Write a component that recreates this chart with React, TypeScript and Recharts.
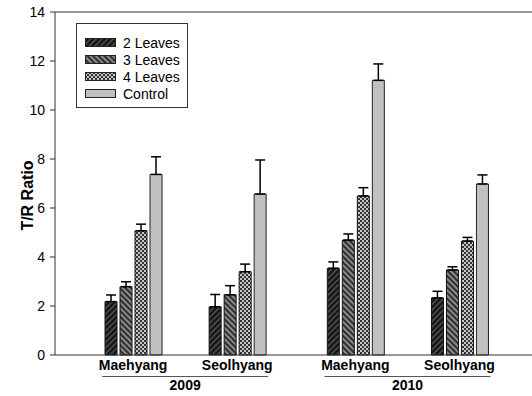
import { BarChart, Bar, XAxis, YAxis, ErrorBar, Legend, ReferenceLine, Label } from 'recharts'

const groups = ['Maehyang', 'Seolhyang', 'Maehyang', 'Seolhyang']
const groupPos = [1, 2, 3.135, 4.135]
const years = ['2009', '2010']
const yearPos = [1.5, 3.635]
const yTicks = [0, 2, 4, 6, 8, 10, 12, 14]

const leaves2 = [2.18, 1.97, 3.54, 2.33]
const leaves2Err = [0.27, 0.5, 0.26, 0.27]
const leaves3 = [2.79, 2.46, 4.69, 3.47]
const leaves3Err = [0.2, 0.37, 0.25, 0.13]
const leaves4 = [5.07, 3.4, 6.49, 4.65]
const leaves4Err = [0.27, 0.31, 0.34, 0.15]
const control = [7.37, 6.57, 11.21, 6.98]
const controlErr = [0.72, 1.39, 0.67, 0.37]

const seriesNames = ['2 Leaves', '3 Leaves', '4 Leaves', 'Control']
const seriesFills = ['url(#p2)', 'url(#p3)', 'url(#p4)', '#c0c0c0']

const data = groups.map((g, i) => ({
  pos: groupPos[i],
  name: g,
  l2: leaves2[i],
  l2e: [0, leaves2Err[i]],
  l3: leaves3[i],
  l3e: [0, leaves3Err[i]],
  l4: leaves4[i],
  l4e: [0, leaves4Err[i]],
  ctrl: control[i],
  ctrle: [0, controlErr[i]]
}))

const font = "'Liberation Sans', Arial, sans-serif"
const axisColor = '#333'

const GroupTick = (props: any) => {
  const { x, y, index } = props
  return (
    <text x={x} y={y + 15} textAnchor="middle" fontFamily={font} fontSize={14} fontWeight="bold" fill="#000">
      {groups[index]}
    </text>
  )
}

const YearTick = (props: any) => {
  const { x, y, index } = props
  return (
    <g>
      <line x1={x - 83} x2={x + 83} y1={y + 1.5} y2={y + 1.5} stroke="#555" strokeWidth={1} />
      <text x={x} y={y + 15} textAnchor="middle" fontFamily={font} fontSize={14} fontWeight="bold" fill="#000">
        {years[index]}
      </text>
    </g>
  )
}

const LegendBox = () => (
  <div
    style={{
      width: 112,
      height: 85,
      border: '1px solid #333',
      background: '#fff',
      boxSizing: 'border-box',
      fontFamily: font,
      fontSize: 14,
      paddingTop: 10,
      textAlign: 'left'
    }}
  >
    {seriesNames.map((n, i) => (
      <div key={n} style={{ display: 'flex', alignItems: 'center', height: 17 }}>
        <svg width={31} height={9} style={{ marginLeft: 8, marginRight: 7 }}>
          <rect x={0.5} y={0.5} width={30} height={8} fill={seriesFills[i]} stroke="#222" strokeWidth={1} />
        </svg>
        <span>{n}</span>
      </div>
    ))}
  </div>
)

export default function App() {
  return (
    <div style={{ position: 'absolute', left: 0, top: 0, width: 532, height: 396, overflow: 'hidden', background: '#fff' }}>
      <BarChart
        width={560}
        height={396}
        data={data}
        margin={{ top: 12, right: 0, left: 0, bottom: 0 }}
        barSize={12}
        barGap={3}
      >
        <defs>
          <pattern id="p2" width={4} height={4} patternUnits="userSpaceOnUse" patternTransform="rotate(45)">
            <rect width={4} height={4} fill="#151515" />
            <rect width={1.3} height={4} fill="#5a5a5a" />
          </pattern>
          <pattern id="p3" width={4} height={4} patternUnits="userSpaceOnUse" patternTransform="rotate(-45)">
            <rect width={4} height={4} fill="#8a8a8a" />
            <rect width={2} height={4} fill="#2e2e2e" />
          </pattern>
          <pattern id="p4" width={4} height={4} patternUnits="userSpaceOnUse">
            <rect width={4} height={4} fill="#c8c8c8" />
            <rect width={2} height={2} fill="#333" />
            <rect x={2} y={2} width={2} height={2} fill="#333" />
          </pattern>
        </defs>
        <XAxis
          dataKey="pos"
          type="number"
          domain={[0.25, 5.1]}
          ticks={groupPos}
          interval={0}
          tickLine={false}
          tickSize={0}
          tickMargin={0}
          tick={<GroupTick />}
          axisLine={{ stroke: axisColor }}
          height={20}
          allowDataOverflow
        />
        <XAxis
          xAxisId="year"
          dataKey="pos"
          type="number"
          domain={[0.25, 5.1]}
          ticks={yearPos}
          interval={0}
          tickLine={false}
          tickSize={0}
          tickMargin={0}
          axisLine={false}
          tick={<YearTick />}
          height={21}
          allowDataOverflow
        />
        <YAxis
          domain={[0, 14]}
          ticks={yTicks}
          width={55}
          tickSize={5}
          tickMargin={5}
          interval={0}
          axisLine={{ stroke: axisColor }}
          tickLine={{ stroke: axisColor }}
          tick={{ fill: '#000', fontSize: 14, fontFamily: font }}
        >
          <Label
            value="T/R Ratio"
            angle={-90}
            position="center"
            dx={0}
            dy={12}
            style={{ fontFamily: font, fontSize: 16, fontWeight: 'bold', fill: '#000', textAnchor: 'middle' }}
          />
        </YAxis>
        <ReferenceLine y={14} stroke={axisColor} ifOverflow="visible" />
        <Legend
          verticalAlign="middle"
          align="center"
          content={<LegendBox />}
          wrapperStyle={{ position: 'absolute', left: 76, top: 23, width: 112 }}
        />
        <Bar dataKey="l2" name={seriesNames[0]} fill={seriesFills[0]} stroke="#111" strokeWidth={1} isAnimationActive={false}>
          <ErrorBar dataKey="l2e" width={5} stroke="#000" strokeWidth={1.5} direction="y" />
        </Bar>
        <Bar dataKey="l3" name={seriesNames[1]} fill={seriesFills[1]} stroke="#111" strokeWidth={1} isAnimationActive={false}>
          <ErrorBar dataKey="l3e" width={5} stroke="#000" strokeWidth={1.5} direction="y" />
        </Bar>
        <Bar dataKey="l4" name={seriesNames[2]} fill={seriesFills[2]} stroke="#111" strokeWidth={1} isAnimationActive={false}>
          <ErrorBar dataKey="l4e" width={5} stroke="#000" strokeWidth={1.5} direction="y" />
        </Bar>
        <Bar dataKey="ctrl" name={seriesNames[3]} fill={seriesFills[3]} stroke="#222" strokeWidth={1} isAnimationActive={false}>
          <ErrorBar dataKey="ctrle" width={5} stroke="#000" strokeWidth={1.5} direction="y" />
        </Bar>
      </BarChart>
    </div>
  )
}
